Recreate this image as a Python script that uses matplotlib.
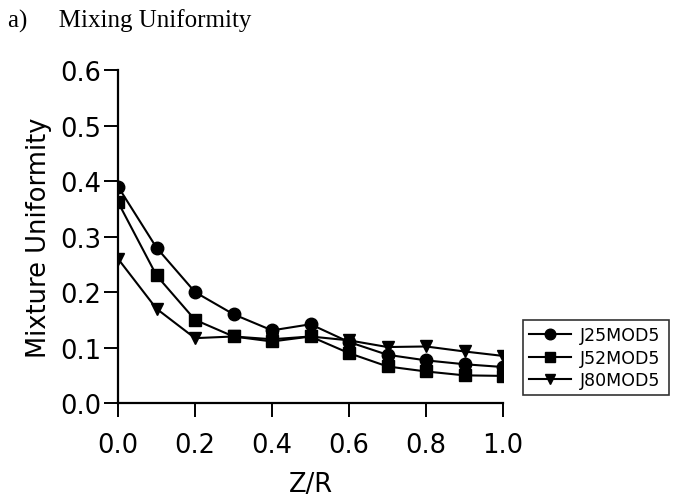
import numpy as np
import matplotlib
matplotlib.use("Agg")
import matplotlib.pyplot as plt

# Z/R positions and mixture uniformity per case
z_r = [0.0, 0.1, 0.2, 0.3, 0.4, 0.5, 0.6, 0.7, 0.8, 0.9, 1.0]
j25mod5 = [0.39, 0.28, 0.20, 0.16, 0.131, 0.142, 0.11, 0.087, 0.077, 0.070, 0.065]
j52mod5 = [0.362, 0.23, 0.15, 0.12, 0.111, 0.12, 0.09, 0.066, 0.057, 0.050, 0.049]
j80mod5 = [0.26, 0.17, 0.117, 0.12, 0.115, 0.12, 0.113, 0.101, 0.102, 0.093, 0.085]

series = [("J25MOD5", j25mod5, "o"),
          ("J52MOD5", j52mod5, "s"),
          ("J80MOD5", j80mod5, "v")]

fig = plt.figure(figsize=(6.77, 5.02), dpi=100)
ax = fig.add_axes([0.1743, 0.195, 0.5687, 0.6636])

for name, vals, mk in series:
    ax.plot(z_r, vals, color="black", lw=1.5, marker=mk, markersize=9, label=name)

ax.set_xlim(0.0, 1.0)
ax.set_ylim(0.0, 0.6)
ax.set_xticks(np.arange(0, 1.01, 0.2))
ax.set_yticks(np.arange(0, 0.61, 0.1))
ax.xaxis.set_major_formatter(plt.FormatStrFormatter("%.1f"))
ax.yaxis.set_major_formatter(plt.FormatStrFormatter("%.1f"))

for s in ["top", "right"]:
    ax.spines[s].set_visible(False)
for s in ["left", "bottom"]:
    ax.spines[s].set_linewidth(1.6)
ax.tick_params(axis="both", direction="out", length=10, width=1.4, labelsize=18.5)
ax.tick_params(axis="y", pad=2)
ax.tick_params(axis="x", pad=11)
for lab in ax.get_xticklabels() + ax.get_yticklabels():
    lab.set_clip_on(False)

ax.set_xlabel("Z/R", fontsize=18.5, labelpad=9)
ax.set_ylabel("Mixture Uniformity", fontsize=18.5, labelpad=6)

leg = fig.legend(loc="lower left", bbox_to_anchor=(0.7725, 0.211, 0.2155, 0.164), mode="expand",
                 fontsize=12.5, frameon=True, fancybox=False, handlelength=2.4,
                 borderaxespad=0, borderpad=0.35, labelspacing=0.25, handletextpad=0.5, markerscale=0.85)
leg.get_frame().set_edgecolor("black")
leg.get_frame().set_linewidth(1.2)

fig.text(0.012, 0.957, "a)     Mixing Uniformity", family="Liberation Serif", fontsize=18, va="center")

fig.savefig("out.png", dpi=100)
